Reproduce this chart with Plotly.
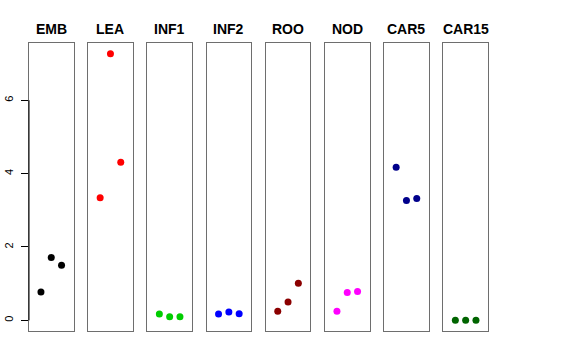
import plotly.graph_objects as go

categories = ["EMB", "LEA", "INF1", "INF2", "ROO", "NOD", "CAR5", "CAR15"]
colors = ["#000000", "#FF0000", "#00CD00", "#0000FF", "#8B0000", "#FF00FF", "#00008B", "#006400"]
replicates = [1, 2, 3]
emb = [0.77, 1.71, 1.50]
lea = [3.34, 7.27, 4.31]
inf1 = [0.17, 0.10, 0.10]
inf2 = [0.17, 0.23, 0.18]
roo = [0.25, 0.50, 1.01]
nod = [0.25, 0.76, 0.79]
car5 = [4.17, 3.27, 3.32]
car15 = [0.0, 0.0, 0.0]
series = [emb, lea, inf1, inf2, roo, nod, car5, car15]
y_ticks = [0, 2, 4, 6]

W, H = 576, 360
left0, step, pw = 29, 59.2, 44.5
top_px, bot_px = 43, 331
y0 = 1 - bot_px / H
y1 = 1 - top_px / H
yrange = [-0.29, 7.56]
xrange = [-0.16, 4.16]

fig = go.Figure()
for i, (cat, col, vals) in enumerate(zip(categories, colors, series)):
    n = "" if i == 0 else str(i + 1)
    xa, ya = "x" + n, "y" + n
    fig.add_trace(go.Scatter(x=replicates, y=vals, mode="markers",
                             marker=dict(color=col, size=7),
                             xaxis=xa, yaxis=ya, showlegend=False))
    xl = (left0 + i * step) / W
    xr = (left0 + i * step + pw) / W
    fig.layout["xaxis" + n] = dict(domain=[xl, xr], range=xrange, showticklabels=False,
                                   ticks="", showgrid=False, zeroline=False,
                                   showline=True, mirror=True, linecolor="#6e6e6e",
                                   linewidth=1, anchor=ya, fixedrange=True,
                                   automargin=False)
    yax = dict(domain=[y0, y1], range=yrange, showgrid=False, zeroline=False,
               showline=True, mirror=True, linecolor="#6e6e6e", linewidth=1,
               anchor=xa, fixedrange=True, automargin=False)
    if i == 0:
        yax.update(tickvals=y_ticks, ticktext=[str(v) for v in y_ticks],
                   ticks="outside", ticklen=7, tickcolor="#000000", tickwidth=1,
                   tickangle=-90, ticklabelstandoff=4,
                   tickfont=dict(family="Liberation Sans", size=11, color="#000"))
    else:
        yax.update(showticklabels=False, ticks="")
    fig.layout["yaxis" + n] = yax
    fig.add_annotation(text="<b>" + cat + "</b>", x=(xl + xr) / 2, y=1 - 29 / H,
                       xref="paper", yref="paper", showarrow=False,
                       font=dict(family="Liberation Sans", size=14, color="#000"),
                       xanchor="center", yanchor="middle")

# black axis line over the tick range on the first panel
fig.add_shape(type="line", xref="x domain", yref="y", x0=0, x1=0,
              y0=y_ticks[0], y1=y_ticks[-1], line=dict(color="#000", width=1))

fig.update_layout(width=W, height=H, margin=dict(l=0, r=0, t=0, b=0, autoexpand=False),
                  paper_bgcolor="white", plot_bgcolor="white")
fig.write_html("out.html", config={"displayModeBar": False},
               post_script="document.body.style.margin='0';document.body.style.padding='0';")
